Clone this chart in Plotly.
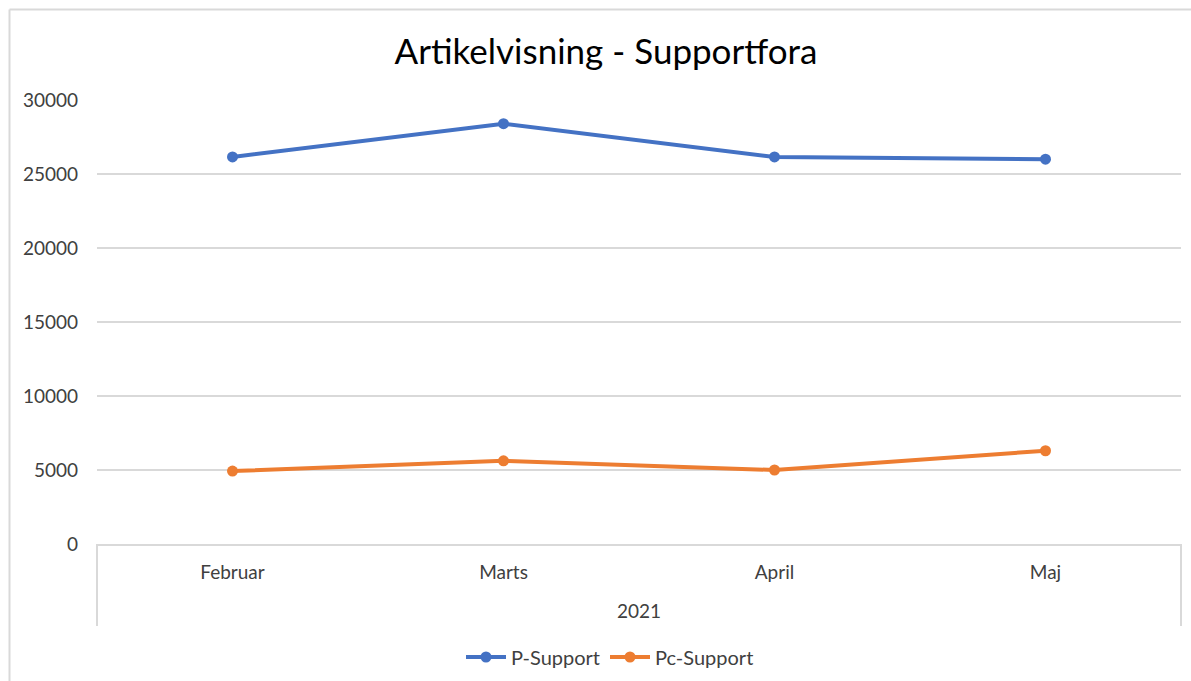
import plotly.graph_objects as go

year = "2021"
months = ["Februar", "Marts", "April", "Maj"]
p_support = [26150, 28400, 26150, 26000]
pc_support = [4930, 5620, 5000, 6300]

BLUE = "#4472C4"
ORANGE = "#ED7D31"
GRID = "#D9D9D9"
FONT = "Lato"
TXT = "#404040"

fig = go.Figure()
fig.add_trace(go.Scatter(x=months, y=p_support, name="P-Support", mode="lines+markers",
                         line=dict(color=BLUE, width=4), marker=dict(size=11, color=BLUE)))
fig.add_trace(go.Scatter(x=months, y=pc_support, name="Pc-Support", mode="lines+markers",
                         line=dict(color=ORANGE, width=4), marker=dict(size=11, color=ORANGE)))

W, H = 1191, 681
L, R, T, B = 97, 10, 100, 137
pw, ph = W - L - R, H - T - B

def px_to_paper_x(px):
    return (px - L) / pw

def px_to_paper_y(py):
    return (H - B - py) / ph

fig.update_layout(
    width=W, height=H,
    margin=dict(l=L, r=R, t=T, b=B, autoexpand=False),
    paper_bgcolor="white", plot_bgcolor="white",
    font=dict(family=FONT, color=TXT, size=19),
    title=dict(text="Artikelvisning - Supportfora", x=606 / W, xanchor="center",
               y=1 - 52 / H, yanchor="middle",
               font=dict(family=FONT, size=35, color="#000000")),
    showlegend=True,
    legend=dict(orientation="h", x=px_to_paper_x(610), xanchor="center",
                y=px_to_paper_y(657), yanchor="middle",
                font=dict(size=20, color=TXT), itemwidth=40),
    xaxis=dict(type="category", range=[-0.5, len(months) - 0.5], showgrid=False,
               showline=True, linecolor=GRID, linewidth=2,
               ticks="", ticklabelstandoff=10, tickfont=dict(size=19, color=TXT),
               automargin=False),
    yaxis=dict(range=[0, 30000], dtick=5000, tickformat="d", showgrid=True,
               gridcolor=GRID, gridwidth=2, zeroline=False, showline=False,
               ticks="", ticklabelstandoff=18, tickfont=dict(size=19, color=TXT),
               automargin=False),
)

# group (year) label under the month labels
fig.add_annotation(text=year, xref="paper", yref="paper", x=0.5, y=px_to_paper_y(610),
                   xanchor="center", yanchor="middle", showarrow=False,
                   font=dict(size=19, color=TXT))

# category group dividers
for xp in (0, 1):
    fig.add_shape(type="line", xref="paper", yref="paper",
                  x0=xp, x1=xp, y0=0, y1=px_to_paper_y(626),
                  line=dict(color=GRID, width=2))

# outer chart border (top and left edges visible)
fig.add_shape(type="line", xref="paper", yref="paper",
              x0=px_to_paper_x(9.5), x1=px_to_paper_x(1191), y0=px_to_paper_y(9.5), y1=px_to_paper_y(9.5),
              line=dict(color=GRID, width=2))
fig.add_shape(type="line", xref="paper", yref="paper",
              x0=px_to_paper_x(9.5), x1=px_to_paper_x(9.5), y0=px_to_paper_y(9.5), y1=px_to_paper_y(681),
              line=dict(color=GRID, width=2))

fig.write_html("out.html", config={"displayModeBar": False},
               post_script="document.body.style.margin='0';document.body.style.overflow='hidden';")
